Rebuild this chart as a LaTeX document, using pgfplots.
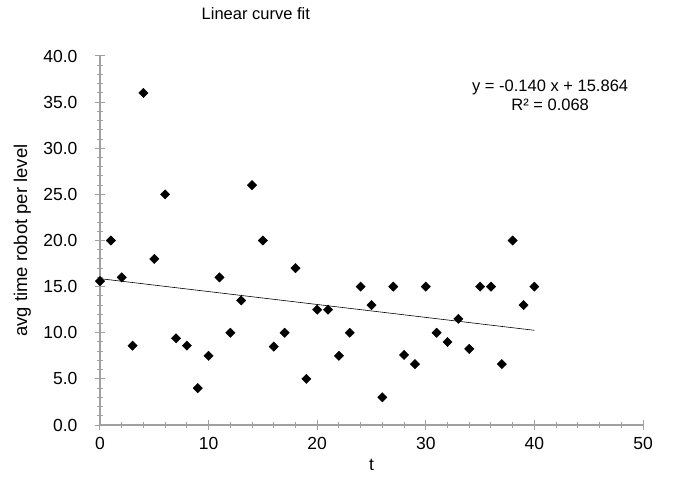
\documentclass[border=0pt]{standalone}
\usepackage{fontspec}
\setmainfont{Liberation Sans}
\usepackage{pgfplots}
\pgfplotsset{compat=1.18}
\newcommand\f{\fontsize{16.5bp}{19.5bp}\selectfont}
\newcommand\ft{\fontsize{17.5bp}{20bp}\selectfont}
\newcommand\fy{\fontsize{18.5bp}{21bp}\selectfont}
\definecolor{axgray}{RGB}{160,160,160}
\begin{document}
\begin{tikzpicture}
\useasboundingbox (-100bp,-63bp) rectangle (574bp,425bp);
\begin{axis}[
  at={(0,0)}, anchor=south west,
  width=543bp, height=369bp, scale only axis,
  xmin=0, xmax=50, ymin=0, ymax=40,
  axis x line=bottom, axis y line=left,
  axis line style={-, axgray, line width=1.3bp},
  every tick/.style={axgray, line width=1bp},
  tick align=center,
  major tick length=10bp, minor tick length=6bp,
  xtick distance=10, ytick distance=5,
  minor x tick num=4, minor y tick num=4,
  /pgf/number format/assume math mode=true,
  ticklabel style={font=\ft, black},
  xticklabel style={yshift=-4bp},
  yticklabel style={xshift=-14bp, /pgf/number format/fixed, /pgf/number format/fixed zerofill, /pgf/number format/precision=1},
  title={Linear curve fit}, title style={font=\f, at={(axis description cs:0.287,1.098)}, anchor=center},
  xlabel={t}, xlabel style={font=\ft, at={(axis description cs:0.5,-0.108)}, anchor=center},
  ylabel={avg time robot per level}, ylabel style={font=\fy, at={(axis description cs:-0.143,0.5)}, anchor=center},
  clip=false,
]
\addplot[only marks, mark=square*, mark size=3.3bp, mark options={rotate=45, black, fill=black}] coordinates {
  (0,15.6) (1,20) (2,16) (3,8.6) (4,36) (5,18) (6,25) (7,9.4) (8,8.6) (9,4)
  (10,7.5) (11,16) (12,10) (13,13.5) (14,26) (15,20) (16,8.5) (17,10) (18,17) (19,5)
  (20,12.5) (21,12.5) (22,7.5) (23,10) (24,15) (25,13) (26,3) (27,15) (28,7.6) (29,6.6)
  (30,15) (31,10) (32,9) (33,11.5) (34,8.25) (35,15) (36,15) (37,6.6) (38,20) (39,13)
  (40,15)
};
\addplot[black, line width=0.6bp] coordinates {(0,15.864) (40,10.264)};
\node[font=\f, align=center, inner sep=0pt] at (axis description cs:0.829,0.894) {y = -0.140 x + 15.864\\R² = 0.068};
\end{axis}
\end{tikzpicture}
\end{document}
